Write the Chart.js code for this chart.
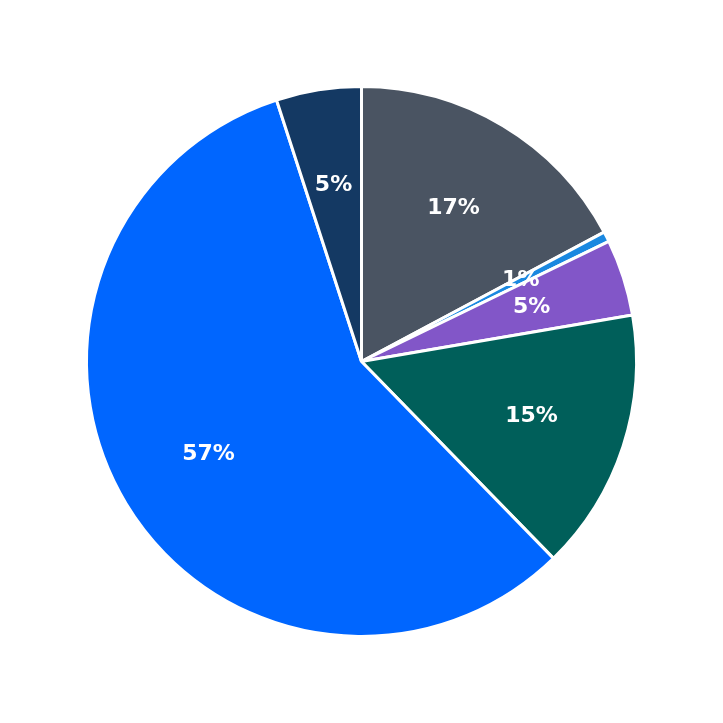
<!DOCTYPE html>
<html><head><style>html,body{margin:0;background:#fff}#w{width:723px;height:723px}</style>
<script src="https://cdn.jsdelivr.net/npm/chart.js@4"></script></head>
<body><div id="w"><canvas id="c"></canvas></div>
<script>
const categories=["A","B","C","D","E","F"];
const values=[17.2,0.6,4.5,15.4,57.3,5.0];
const colors=["#4a5462","#1a88e0","#8256c8","#005f5a","#0066ff","#143963"];
const labelPlugin={id:"lbl",afterDatasetsDraw(ch){
  const ctx=ch.ctx,meta=ch.getDatasetMeta(0),tot=values.reduce((a,b)=>a+b,0);
  ctx.save();ctx.fillStyle="#fff";ctx.font="bold 22px 'DejaVu Sans'";ctx.textAlign="center";ctx.textBaseline="middle";
  meta.data.forEach((a,i)=>{const m=(a.startAngle+a.endAngle)/2,r=a.outerRadius*0.65;
    ctx.fillText(Math.round(values[i]/tot*100)+"%",a.x+Math.cos(m)*r,a.y+Math.sin(m)*r);});
  ctx.restore();}};
new Chart(document.getElementById("c"),{type:"pie",
 data:{labels:categories,datasets:[{data:values,backgroundColor:colors,borderColor:"#fff",borderWidth:3}]},
 options:{responsive:true,maintainAspectRatio:false,animation:false,layout:{padding:85},
  plugins:{legend:{display:false},tooltip:{enabled:false}}},plugins:[labelPlugin]});
</script></body></html>
